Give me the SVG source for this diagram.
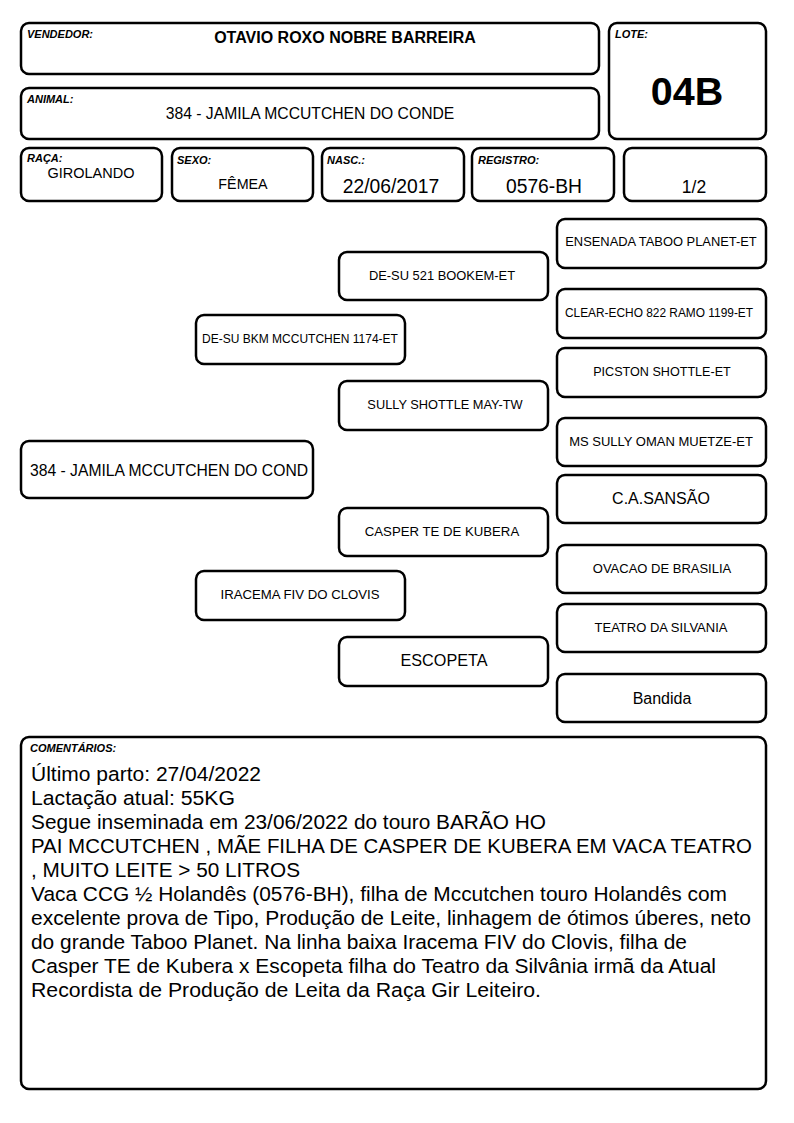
<svg xmlns="http://www.w3.org/2000/svg" width="794" height="1123" viewBox="0 0 794 1123">
<style>
.b{fill:#fff;stroke:#000;stroke-width:2.5}
.l{font-family:"Liberation Sans",Arial,sans-serif;font-size:11px;font-weight:bold;font-style:italic;fill:#000}
.t{font-family:"Liberation Sans",Arial,sans-serif;fill:#000;text-anchor:middle}
.c{font-family:"Liberation Sans",Arial,sans-serif;font-size:20.5px;fill:#000}
</style>
<rect width="794" height="1123" fill="#fff"/>
<g id="vendedor"><rect class="b" x="21" y="23" width="578" height="51" rx="8"/><text class="l" x="27" y="38">VENDEDOR:</text><text class="t" x="345" y="43" font-size="16" font-weight="bold">OTAVIO ROXO NOBRE BARREIRA</text></g>
<g id="lote"><rect class="b" x="609" y="23" width="157" height="116" rx="8"/><text class="l" x="615" y="38">LOTE:</text><text class="t" x="687" y="105" font-size="39.5" font-weight="bold">04B</text></g>
<g id="animal"><rect class="b" x="21" y="88" width="578" height="51" rx="8"/><text class="l" x="27" y="103">ANIMAL:</text><text class="t" x="310" y="119" font-size="15.7">384 - JAMILA MCCUTCHEN DO CONDE</text></g>
<g id="raca"><rect class="b" x="21" y="148" width="141" height="53" rx="8"/><text class="l" x="27" y="162">RAÇA:</text><text class="t" x="91" y="178" font-size="14.5">GIROLANDO</text></g>
<g id="sexo"><rect class="b" x="172" y="148" width="141" height="53" rx="8"/><text class="l" x="177" y="164">SEXO:</text><text class="t" x="243" y="189" font-size="14.3">FÊMEA</text></g>
<g id="nasc"><rect class="b" x="322" y="148" width="142" height="53" rx="8"/><text class="l" x="327" y="164">NASC.:</text><text class="t" x="391" y="193" font-size="19.3">22/06/2017</text></g>
<g id="registro"><rect class="b" x="472" y="148" width="142" height="53" rx="8"/><text class="l" x="478" y="164">REGISTRO:</text><text class="t" x="544" y="193" font-size="19.3">0576-BH</text></g>
<g id="pagina"><rect class="b" x="624" y="148" width="142" height="53" rx="8"/><text class="t" x="694" y="193" font-size="17.5">1/2</text></g>

<g id="n-main"><rect class="b" x="21" y="441" width="292" height="57" rx="8"/><text x="30" y="476" font-family="Liberation Sans,Arial,sans-serif" font-size="15.7">384 - JAMILA MCCUTCHEN DO COND</text></g>
<g id="n-pai"><rect class="b" x="196" y="315" width="209" height="49" rx="8"/><text class="t" x="300" y="343" font-size="12">DE-SU BKM MCCUTCHEN 1174-ET</text></g>
<g id="n-mae"><rect class="b" x="196" y="571" width="209" height="49" rx="8"/><text class="t" x="300" y="599" font-size="13.2">IRACEMA FIV DO CLOVIS</text></g>
<g id="n-pp"><rect class="b" x="339" y="252" width="209" height="48" rx="8"/><text class="t" x="442" y="280" font-size="12.9">DE-SU 521 BOOKEM-ET</text></g>
<g id="n-pm"><rect class="b" x="339" y="381" width="209" height="49" rx="8"/><text class="t" x="445" y="409" font-size="12.8">SULLY SHOTTLE MAY-TW</text></g>
<g id="n-mp"><rect class="b" x="339" y="508" width="209" height="48" rx="8"/><text class="t" x="442" y="536" font-size="13.2">CASPER TE DE KUBERA</text></g>
<g id="n-mm"><rect class="b" x="339" y="637" width="209" height="49" rx="8"/><text class="t" x="444" y="666" font-size="16.2">ESCOPETA</text></g>
<g id="n-ppp"><rect class="b" x="557" y="219" width="209" height="49" rx="8"/><text class="t" x="661" y="246" font-size="12.9">ENSENADA TABOO PLANET-ET</text></g>
<g id="n-ppm"><rect class="b" x="557" y="289" width="209" height="49" rx="8"/><text class="t" x="659" y="317" font-size="11.9">CLEAR-ECHO 822 RAMO 1199-ET</text></g>
<g id="n-pmp"><rect class="b" x="557" y="348" width="209" height="49" rx="8"/><text class="t" x="662" y="376" font-size="12.6">PICSTON SHOTTLE-ET</text></g>
<g id="n-pmm"><rect class="b" x="557" y="418" width="209" height="48" rx="8"/><text class="t" x="661" y="446" font-size="13">MS SULLY OMAN MUETZE-ET</text></g>
<g id="n-mpp"><rect class="b" x="557" y="475" width="209" height="48" rx="8"/><text class="t" x="661" y="504" font-size="16">C.A.SANSÃO</text></g>
<g id="n-mpm"><rect class="b" x="557" y="545" width="209" height="48" rx="8"/><text class="t" x="662" y="573" font-size="13">OVACAO DE BRASILIA</text></g>
<g id="n-mmp"><rect class="b" x="557" y="604" width="209" height="48" rx="8"/><text class="t" x="661" y="632" font-size="13">TEATRO DA SILVANIA</text></g>
<g id="n-mmm"><rect class="b" x="557" y="674" width="209" height="48" rx="8"/><text class="t" x="662" y="704" font-size="16">Bandida</text></g>
<g id="connectors"></g>

<g id="comentarios"><rect class="b" x="21" y="737" width="745" height="352" rx="8"/><text class="l" x="30" y="752">COMENTÁRIOS:</text>
<text class="c" x="31" y="781" textLength="230" lengthAdjust="spacingAndGlyphs">Último parto: 27/04/2022</text>
<text class="c" x="31" y="805" textLength="204" lengthAdjust="spacingAndGlyphs">Lactação atual: 55KG</text>
<text class="c" x="31" y="829" textLength="515" lengthAdjust="spacingAndGlyphs">Segue inseminada em 23/06/2022 do touro BARÃO HO</text>
<text class="c" x="31" y="853" textLength="721" lengthAdjust="spacingAndGlyphs">PAI MCCUTCHEN , MÃE FILHA DE CASPER DE KUBERA EM VACA TEATRO</text>
<text class="c" x="31" y="877" textLength="269" lengthAdjust="spacingAndGlyphs">, MUITO LEITE &gt; 50 LITROS</text>
<text class="c" x="31" y="901" textLength="696" lengthAdjust="spacingAndGlyphs">Vaca CCG ½ Holandês (0576-BH), filha de Mccutchen touro Holandês com</text>
<text class="c" x="31" y="925" textLength="720" lengthAdjust="spacingAndGlyphs">excelente prova de Tipo, Produção de Leite, linhagem de ótimos úberes, neto</text>
<text class="c" x="31" y="949" textLength="656" lengthAdjust="spacingAndGlyphs">do grande Taboo Planet. Na linha baixa Iracema FIV do Clovis, filha de</text>
<text class="c" x="31" y="973" textLength="685" lengthAdjust="spacingAndGlyphs">Casper TE de Kubera x Escopeta filha do Teatro da Silvânia irmã da Atual</text>
<text class="c" x="31" y="997" textLength="510" lengthAdjust="spacingAndGlyphs">Recordista de Produção de Leita da Raça Gir Leiteiro.</text>
</g>
</svg>
